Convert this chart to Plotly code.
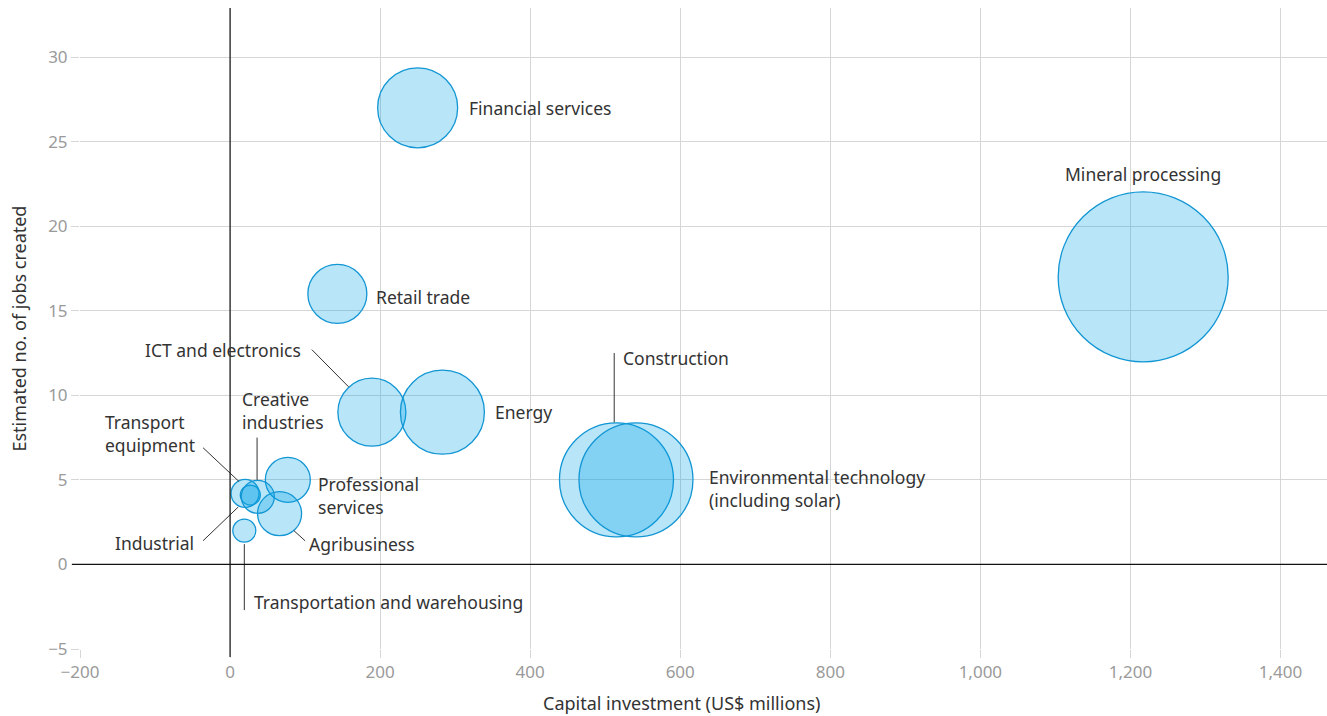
import plotly.graph_objects as go

# sectors, capital investment (US$ m), jobs, bubble diameter
sectors = ["Mineral processing", "Financial services", "Retail trade", "ICT and electronics",
           "Energy", "Construction", "Environmental technology (including solar)",
           "Professional services", "Agribusiness", "Transportation and warehousing",
           "Transport equipment", "Industrial", "Creative industries"]
capex = [1217, 250, 143, 189, 283, 515, 541, 77, 66, 19, 20, 27, 37]
jobs = [17, 27, 16, 9, 9, 5, 5, 5, 3, 2, 4.2, 4.1, 4.0]
bubble = [170, 80, 59, 68, 84, 114, 114, 45, 44, 23, 28, 20, 33]

x_ticks = [-200, 0, 200, 400, 600, 800, 1000, 1200, 1400]
y_ticks = [-5, 0, 5, 10, 15, 20, 25, 30]

FONT = "Noto Sans"
TXT = "#333333"
GRID = "#d6d6d6"

fig = go.Figure()
fig.add_trace(go.Scatter(
    x=capex, y=jobs, mode="markers", text=sectors, hoverinfo="text",
    marker=dict(size=bubble, sizemode="diameter", sizeref=1, opacity=1,
                color="rgba(0,160,230,0.28)",
                line=dict(color="#1296d4", width=1.3)),
    showlegend=False,
))

# label placement: (text, x, y, xanchor, leader line or None)
labels = [
    ("Mineral processing", 1217, 23.1, "center", None),
    ("Financial services", 316, 27, "left", None),
    ("Retail trade", 192, 15.8, "left", None),
    ("ICT and electronics", 97, 12.7, "right", (109, 12.7, 158, 10.5)),
    ("Energy", 351, 9.0, "left", None),
    ("Construction", 521, 12.2, "left", (512, 12.5, 512, 8.4)),
    ("Environmental technology<br>(including solar)", 635, 4.5, "left", None),
    ("Professional<br>services", 114, 4.1, "left", None),
    ("Agribusiness", 103, 1.2, "left", (85, 2.0, 100, 1.4)),
    ("Transportation and warehousing", 29, -2.2, "left", (19, 1.2, 19, -2.7)),
    ("Transport<br>equipment", -169, 7.75, "left", (-36, 6.9, 12, 4.9)),
    ("Industrial", -45, 1.25, "right", (-36, 1.4, 11, 3.4)),
    ("Creative<br>industries", 13, 9.1, "left", (36, 7.5, 36, 5.0)),
]

for text, lx, ly, anchor, leader in labels:
    fig.add_annotation(x=lx, y=ly, xref="x", yref="y", text=text, showarrow=False,
                       xanchor=anchor, yanchor="middle", align="left",
                       font=dict(family=FONT, size=17.5, color=TXT))
    if leader:
        x0, y0, x1, y1 = leader
        fig.add_shape(type="line", x0=x0, y0=y0, x1=x1, y1=y1, xref="x", yref="y",
                      line=dict(color="#333333", width=1), layer="above")

# zero lines, extended over the tick area
fig.add_shape(type="line", xref="x", yref="paper", x0=0, x1=0, y0=-0.0125, y1=1,
              line=dict(color="#111111", width=1.2), layer="above")
fig.add_shape(type="line", xref="paper", yref="y", x0=-0.0064, x1=1, y0=0, y1=0,
              line=dict(color="#111111", width=1.2), layer="above")

fig.add_annotation(text="Capital investment (US$ millions)", xref="paper", yref="paper",
                   x=0.482, y=-0.084, showarrow=False, xanchor="center", yanchor="middle",
                   font=dict(family=FONT, size=18, color=TXT))
fig.add_annotation(text="Estimated no. of jobs created", xref="paper", yref="paper",
                   x=-0.0497, y=0.5, showarrow=False, textangle=-90,
                   xanchor="center", yanchor="middle",
                   font=dict(family=FONT, size=18, color=TXT))

fig.update_xaxes(range=[-200, 1462], tickvals=x_ticks, tickformat=",d",
                 showgrid=True, gridcolor=GRID, gridwidth=1, zeroline=False,
                 ticks="outside", ticklen=8, tickcolor=GRID, showline=False,
                 tickfont=dict(family=FONT, size=17, color="#9a9a9a"))
fig.update_yaxes(range=[-5, 32.9], tickvals=y_ticks,
                 showgrid=True, gridcolor=GRID, gridwidth=1, zeroline=False,
                 ticks="outside", ticklen=8, tickcolor=GRID, showline=False,
                 tickfont=dict(family=FONT, size=17, color="#9a9a9a"))

fig.update_layout(
    width=1327, height=716,
    margin=dict(l=80, r=0, t=8, b=67),
    plot_bgcolor="white", paper_bgcolor="white",
    separators=".,",
    font=dict(family=FONT),
)

fig.write_html("out.html", config={"displayModeBar": False},
               post_script="document.body.style.margin='0';")
